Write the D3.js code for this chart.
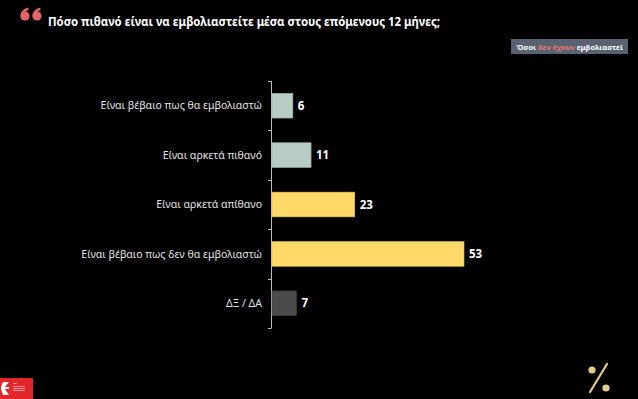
<!DOCTYPE html>
<html>
<head>
<meta charset="utf-8">
<script src="https://cdn.jsdelivr.net/npm/d3@7"></script>
<style>
  html, body { margin: 0; padding: 0; background: #000; }
  svg { display: block; font-family: "Noto Sans", sans-serif; }
</style>
</head>
<body>
<div id="chart"></div>
<script>
// data
const categories = [
    'Είναι βέβαιο πως θα εμβολιαστώ',
    'Είναι αρκετά πιθανό',
    'Είναι αρκετά απίθανο',
    'Είναι βέβαιο πως δεν θα εμβολιαστώ',
    'ΔΞ / ΔΑ'
];
const values = [6, 11, 23, 53, 7];
const groups = ['yes', 'yes', 'no', 'no', 'dk'];

const titleText = 'Πόσο πιθανό είναι να εμβολιαστείτε μέσα στους επόμενους 12 μήνες;';

const W = 638, H = 399;
const svg = d3.select('#chart').append('svg')
    .attr('width', W)
    .attr('height', H);

svg.append('rect').attr('width', W).attr('height', H).attr('fill', '#000');

// color per group
const color = d3.scaleOrdinal()
    .domain(['yes', 'no', 'dk'])
    .range(['#b7ccc4', '#fed967', '#4b4b4b']);

// scales
const x = d3.scaleLinear().domain([0, 53]).range([271, 464]);
const y = d3.scaleBand().domain(categories).range([81, 328]).paddingInner(0.5).paddingOuter(0.25);

// axis line + ticks between bands
const boundaries = d3.range(categories.length + 1).map(i => 81 + i * (247 / categories.length));
svg.append('line')
    .attr('x1', 271.5).attr('x2', 271.5)
    .attr('y1', 81).attr('y2', 328)
    .attr('stroke', '#bdbdbd').attr('stroke-width', 1);
svg.selectAll('.tick')
    .data(boundaries)
    .join('line')
    .attr('class', 'tick')
    .attr('x1', 268).attr('x2', 271.5)
    .attr('y1', d => Math.round(d) + 0.5).attr('y2', d => Math.round(d) + 0.5)
    .attr('stroke', '#bdbdbd').attr('stroke-width', 1);

// bars
svg.selectAll('.bar')
    .data(values)
    .join('rect')
    .attr('class', 'bar')
    .attr('x', x(0) + 1)
    .attr('y', (d, i) => y(categories[i]))
    .attr('width', d => x(d) - x(0) - 1)
    .attr('height', y.bandwidth())
    .attr('fill', (d, i) => color(groups[i]))
    .attr('stroke', (d, i) => d3.color(color(groups[i])).darker(0.4))
    .attr('stroke-width', 0.6);

// category labels
svg.selectAll('.cat')
    .data(categories)
    .join('text')
    .attr('class', 'cat')
    .attr('x', 262)
    .attr('y', d => y(d) + y.bandwidth() / 2)
    .attr('dy', '0.35em')
    .attr('text-anchor', 'end')
    .attr('fill', '#e4e4e4')
    .attr('font-size', 10.5)
    .text(d => d);

// value labels
svg.selectAll('.val')
    .data(values)
    .join('text')
    .attr('class', 'val')
    .attr('x', d => x(d) + 5)
    .attr('y', (d, i) => y(categories[i]) + y.bandwidth() / 2)
    .attr('dy', '0.36em')
    .attr('fill', '#fff')
    .attr('font-size', 11.5)
    .attr('font-weight', 'bold')
    .text(d => d);

// quote mark drawn as two "6" shapes
const quote = svg.append('g').attr('fill', '#e26565');
[25, 37].forEach(cx => {
    quote.append('circle').attr('cx', cx).attr('cy', 16).attr('r', 4.6);
    quote.append('path')
        .attr('d', `M${cx - 4.6},16 Q${cx - 4.4},9.5 ${cx + 3.2},7.5 L${cx + 3.6},10 Q${cx - 0.5},11.5 ${cx - 0.5},14 Z`);
});

svg.append('text')
    .attr('x', 48).attr('y', 26)
    .attr('fill', '#fff')
    .attr('font-size', 12)
    .attr('font-weight', 'bold')
    .attr('textLength', 392)
    .attr('lengthAdjust', 'spacingAndGlyphs')
    .text(titleText);

// legend box
const lg = svg.append('g').attr('transform', 'translate(511,39)');
lg.append('rect')
    .attr('width', 117).attr('height', 15)
    .attr('fill', '#586270');
const lt = lg.append('text')
    .attr('x', 58.5).attr('y', 10.5)
    .attr('text-anchor', 'middle')
    .attr('font-size', 7.6)
    .attr('font-weight', 'bold')
    .attr('fill', '#fff');
lt.append('tspan').text('Όσοι ');
lt.append('tspan').attr('fill', '#e87878').text('δεν έχουν');
lt.append('tspan').text(' εμβολιαστεί');

// logo bottom left
const logo = svg.append('g').attr('transform', 'translate(0,378)');
logo.append('rect').attr('width', 33).attr('height', 21).attr('fill', '#e3262b');
logo.append('path')
    .attr('d', 'M3,4 L9,4 L5,9 L9,9 L9,11 L5,11 L9,17 L3,17 L1,11 L1,9 Z')
    .attr('fill', '#fff');
logo.selectAll('.lt')
    .data([5, 8, 10, 12])
    .join('rect')
    .attr('x', 13).attr('y', d => d)
    .attr('width', (d, i) => i === 0 ? 4 : 12).attr('height', 0.8)
    .attr('fill', '#f7b5b5');

// percent mark bottom right
const pc = svg.append('g').attr('fill', '#e4cc8a').attr('stroke', '#e4cc8a');
pc.append('circle').attr('cx', 592).attr('cy', 370).attr('r', 3.6).attr('stroke', 'none');
pc.append('circle').attr('cx', 606).attr('cy', 388).attr('r', 3.6).attr('stroke', 'none');
pc.append('line')
    .attr('x1', 607).attr('y1', 364)
    .attr('x2', 590).attr('y2', 392)
    .attr('stroke-width', 2.2)
    .attr('stroke-linecap', 'round');
</script>
</body>
</html>
